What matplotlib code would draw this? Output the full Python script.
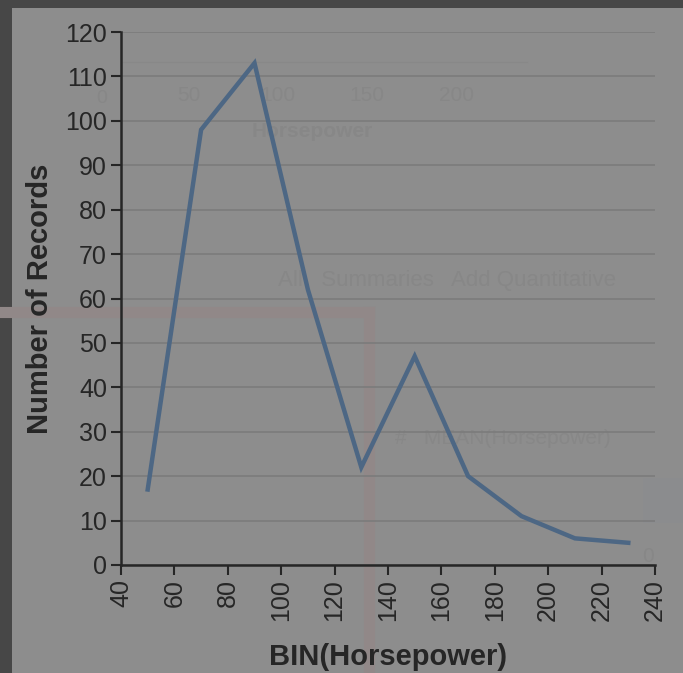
import matplotlib.pyplot as plt
from matplotlib.patches import Rectangle
from matplotlib.lines import Line2D

# binned horsepower counts
bins = [50, 70, 90, 110, 130, 150, 170, 190, 210, 230]
counts = [17, 98, 113, 62, 22, 47, 20, 11, 6, 5]
xticks = list(range(40, 241, 20))
yticks = list(range(0, 121, 10))

plt.rcParams['font.family'] = ['Liberation Sans', 'DejaVu Sans']

fig = plt.figure(figsize=(6.83, 6.73), dpi=100)
fig.patch.set_facecolor('#474747')
# grey screenshot panel
fig.patches.append(Rectangle((12 / 683, 0), 1, 665 / 673, transform=fig.transFigure,
                             facecolor='#8d8d8d', edgecolor='none', zorder=0))

# faint UI remnants behind the chart
ghost = '#878787'
fig.text(102 / 683, 1 - 90 / 673, '0', color=ghost, fontsize=14, ha='center', va='top',
         zorder=0.2)
for v, px in [(50, 189), (100, 278), (150, 367), (200, 456)]:
    fig.text(px / 683, 1 - 86 / 673, str(v), color=ghost, fontsize=15, ha='center', va='top',
             zorder=0.2)
fig.lines.append(Line2D([122 / 683, 527 / 683], [1 - 62 / 673] * 2,
                        transform=fig.transFigure, color='#888888', linewidth=1, zorder=0.2))
fig.text(312 / 683, 1 - 137 / 673, 'Horsepower', color=ghost, fontsize=15, ha='center',
         fontweight='bold', zorder=0.2)
fig.text(278 / 683, 1 - 286 / 673, 'All   Summaries   Add Quantitative', color=ghost,
         fontsize=16, ha='left', zorder=0.2)
fig.text(395 / 683, 1 - 444 / 673, '#   MEAN(Horsepower)', color=ghost, fontsize=15,
         ha='left', zorder=0.2)
fig.text(648 / 683, 1 - 562 / 673, '0', color=ghost, fontsize=15, ha='center', zorder=0.2)
fig.patches.append(Rectangle((643 / 683, 1 - 523 / 673), 40 / 683, 45 / 673,
                             transform=fig.transFigure, facecolor='#8b8c8e',
                             edgecolor='none', zorder=0.3))
pink = '#918888'
fig.lines.append(Line2D([0, 369 / 683], [1 - 312 / 673] * 2, transform=fig.transFigure,
                        color=pink, linewidth=8, zorder=0.5))
fig.lines.append(Line2D([369 / 683] * 2, [1 - 312 / 673, 0], transform=fig.transFigure,
                        color=pink, linewidth=8, zorder=0.5))

ax = fig.add_axes([121 / 683, 108 / 673, 534 / 683, 533 / 673])
ax.set_zorder(2)
ax.set_facecolor('none')
ax.plot(bins, counts, color='#4d6784', linewidth=3.2, solid_joinstyle='miter', zorder=3)

ax.set_xlim(40, 240)
ax.set_ylim(0, 120)
ax.set_xticks(xticks)
ax.set_yticks(yticks)
ax.tick_params(axis='x', labelrotation=90, labelsize=18, colors='#262626', length=7,
               width=1.5, pad=3)
ax.tick_params(axis='y', labelsize=18, colors='#262626', length=7, width=1.5, pad=3)
ax.grid(axis='y', color='#7b7b7b', linewidth=1.2)
ax.set_axisbelow(True)
for s in ['top', 'right']:
    ax.spines[s].set_visible(False)
for s in ['left', 'bottom']:
    ax.spines[s].set_color('#262626')
    ax.spines[s].set_linewidth(1.8)

ax.set_xlabel('BIN(Horsepower)', fontsize=21, fontweight='bold', color='#262626', labelpad=16)
ax.set_ylabel('Number of Records', fontsize=21, fontweight='bold', color='#262626', labelpad=8)

fig.savefig('out.png', dpi=100, facecolor=fig.get_facecolor())
